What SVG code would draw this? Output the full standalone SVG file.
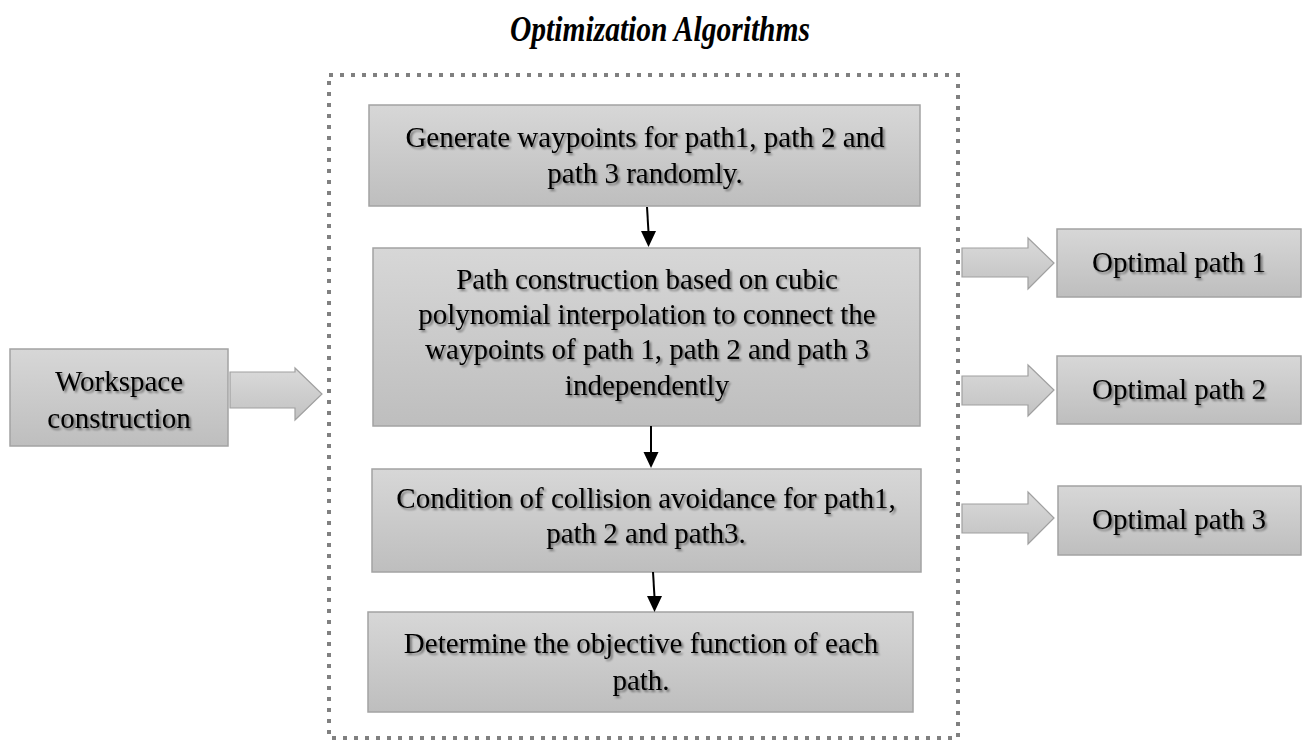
<svg xmlns="http://www.w3.org/2000/svg" width="1302" height="744" viewBox="0 0 1302 744">
  <defs>
    <linearGradient id="boxFill" x1="0" y1="0" x2="0" y2="1">
      <stop offset="0" stop-color="#d7d7d7"/>
      <stop offset="1" stop-color="#bebebe"/>
    </linearGradient>
    <linearGradient id="blockFill" x1="0" y1="0" x2="0" y2="1">
      <stop offset="0" stop-color="#dadada"/>
      <stop offset="1" stop-color="#c2c2c2"/>
    </linearGradient>
    <filter id="textShadow" x="-10%" y="-30%" width="120%" height="160%">
      <feGaussianBlur in="SourceAlpha" stdDeviation="1.2" result="blur"/>
      <feOffset in="blur" dx="1.5" dy="1.5" result="off"/>
      <feComponentTransfer in="off" result="soft">
        <feFuncA type="linear" slope="0.45"/>
      </feComponentTransfer>
      <feMerge>
        <feMergeNode in="soft"/>
        <feMergeNode in="SourceGraphic"/>
      </feMerge>
    </filter>
  </defs>
  <style>
    .box { fill: url(#boxFill); stroke: #a3a3a3; stroke-width: 1.5; }
    .lbl { font-family: "Liberation Serif", "Times New Roman", serif; font-size: 29px; fill: #000; text-anchor: middle; filter: url(#textShadow); }
    .title { font-family: "Liberation Serif", "Times New Roman", serif; font-size: 35px; font-weight: bold; font-style: italic; fill: #000; text-anchor: middle; }
    .frame { fill: none; stroke: #808080; stroke-width: 4; stroke-dasharray: 4 7; }
    .block { fill: url(#blockFill); stroke: #a0a0a0; stroke-width: 1.2; stroke-linejoin: miter; }
    .flow { fill: none; stroke: #000; stroke-width: 2; }
    .flowHead { fill: #000; }
  </style>

  <text class="title" x="660" y="41" textLength="300" lengthAdjust="spacingAndGlyphs">Optimization Algorithms</text>

  <!-- dotted frame around the algorithm steps -->
  <rect id="algorithm-frame" class="frame" x="329" y="75" width="629" height="663"/>

  <g id="workspace">
    <rect class="box" x="10" y="349" width="218" height="97"/>
    <text class="lbl" x="119" y="391">Workspace</text>
    <text class="lbl" x="119" y="428">construction</text>
  </g>

  <g id="step-generate">
    <rect class="box" x="369" y="105" width="551" height="101"/>
    <text class="lbl" x="645" y="147">Generate waypoints for path1, path 2 and</text>
    <text class="lbl" x="645" y="183">path 3 randomly.</text>
  </g>

  <g id="step-construct">
    <rect class="box" x="373" y="248" width="547" height="178"/>
    <text class="lbl" x="647" y="289">Path construction based on cubic</text>
    <text class="lbl" x="647" y="324">polynomial interpolation to connect the</text>
    <text class="lbl" x="647" y="359">waypoints of path 1, path 2 and path 3</text>
    <text class="lbl" x="647" y="395">independently</text>
  </g>

  <g id="step-collision">
    <rect class="box" x="372" y="469" width="549" height="103"/>
    <text class="lbl" x="646" y="508">Condition of collision avoidance for path1,</text>
    <text class="lbl" x="646" y="543">path 2 and path3.</text>
  </g>

  <g id="step-objective">
    <rect class="box" x="368" y="612" width="545" height="100"/>
    <text class="lbl" x="641" y="653">Determine the objective function of each</text>
    <text class="lbl" x="641" y="690">path.</text>
  </g>

  <g id="optimal-1">
    <rect class="box" x="1057" y="229" width="244" height="68"/>
    <text class="lbl" x="1179" y="272">Optimal path 1</text>
  </g>
  <g id="optimal-2">
    <rect class="box" x="1057" y="356" width="244" height="68"/>
    <text class="lbl" x="1179" y="399">Optimal path 2</text>
  </g>
  <g id="optimal-3">
    <rect class="box" x="1058" y="486" width="243" height="69"/>
    <text class="lbl" x="1179" y="529">Optimal path 3</text>
  </g>

  <g id="connectors">
    <!-- block arrows -->
    <path class="block" d="M230,372 H295 V368 L322,394 L295,420 V408 H230 Z"/>
    <path class="block" d="M962,248 H1028 V238 L1054,263 L1028,289 V277 H962 Z"/>
    <path class="block" d="M962,376 H1028 V365 L1054,390 L1028,416 V405 H962 Z"/>
    <path class="block" d="M962,504 H1028 V492 L1054,518 L1028,544 V533 H962 Z"/>
    <!-- step-to-step arrows -->
    <line class="flow" x1="647" y1="207" x2="648.5" y2="232"/>
    <path class="flowHead" d="M641,231 L656,231 L648.5,247 Z"/>
    <line class="flow" x1="651" y1="426" x2="651" y2="453"/>
    <path class="flowHead" d="M643.5,452 L658.5,452 L651,468 Z"/>
    <line class="flow" x1="653" y1="572" x2="654.5" y2="597"/>
    <path class="flowHead" d="M647,596 L662,596 L654.5,612 Z"/>
  </g>
</svg>
